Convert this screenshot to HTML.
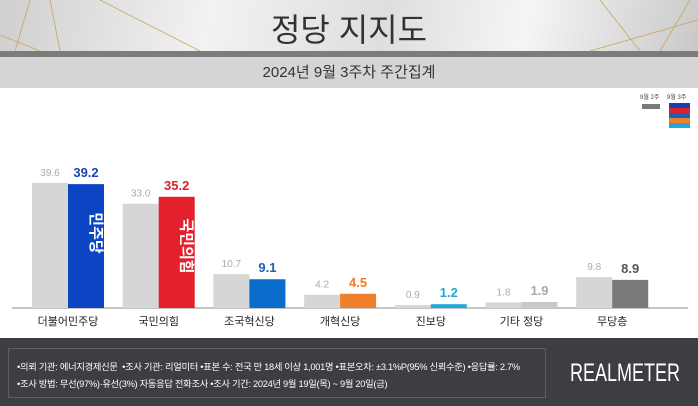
<!DOCTYPE html>
<html><head><meta charset="utf-8"><style>
body{margin:0;width:698px;height:406px;overflow:hidden;font-family:"Liberation Sans","Noto Sans CJK KR",sans-serif;background:#fff;position:relative}
.abs{position:absolute}
</style></head><body>
<div class="abs" style="left:0;top:0;width:698px;height:51px;background:linear-gradient(100deg,#cfcfcf 0%,#f2f2f2 30%,#dedede 55%,#f5f5f5 75%,#c9c9c9 100%)">
<svg width="698" height="51" style="position:absolute;left:0;top:0"><g stroke="#c9a55a" stroke-width="0.8" fill="none"><line x1="30" y1="0" x2="15" y2="51"/><line x1="50" y1="0" x2="60" y2="51"/><line x1="0" y1="35" x2="40" y2="51"/><line x1="100" y1="0" x2="200" y2="51"/><line x1="600" y1="0" x2="640" y2="51"/><line x1="690" y1="0" x2="660" y2="51"/><line x1="698" y1="20" x2="590" y2="51"/></g></svg>
<div class="abs" style="left:0;width:698px;top:5px;text-align:center;font-size:32px;color:#333">정당 지지도</div>
</div>
<div class="abs" style="left:0;top:51px;width:698px;height:6px;background:#7c7c7c"></div>
<div class="abs" style="left:0;top:57px;width:698px;height:31px;background:#d5d5d5;text-align:center;line-height:31px;font-size:15px;color:#333">2024년 9월 3주차 주간집계</div>
<div class="abs" style="left:630px;top:91px;width:68px;height:40px;font-size:6px;color:#444">
<div class="abs" style="left:10px;top:1px">9월 2주</div>
<div class="abs" style="left:12px;top:13px;width:18px;height:5px;background:#7a7a7a"></div>
<div class="abs" style="left:37px;top:1px">9월 3주</div>
<div class="abs" style="left:39px;top:12px;width:21px;height:25px;background:linear-gradient(#1a3fb0 0 20%,#e0202c 20% 40%,#1565c0 40% 60%,#f07f2a 60% 80%,#1fa8d8 80%)"></div>
</div>
<svg id="chart" class="abs" style="left:0;top:88px" width="698" height="250"></svg>
<div class="abs" style="left:0;top:338px;width:698px;height:68px;background:#3c3e42">
<div class="abs" style="left:8px;top:10px;width:536px;height:48px;border:1px solid #5c5e62;color:#fff;font-size:9.3px;letter-spacing:-0.3px">
<div class="abs" style="left:8px;top:10px;white-space:nowrap">•의뢰 기관: 에너지경제신문 &nbsp;•조사 기관: 리얼미터 •표본 수: 전국 만 18세 이상 1,001명 •표본오차: ±3.1%P(95% 신뢰수준) •응답률: 2.7%</div>
<div class="abs" style="left:8px;top:27px;white-space:nowrap">•조사 방법: 무선(97%)·유선(3%) 자동응답 전화조사 •조사 기간: 2024년 9월 19일(목) ~ 9월 20일(금)</div>
</div>
<div class="abs" style="left:570px;top:21px;white-space:nowrap;color:#fff;font-size:25px;transform:scaleX(0.72);transform-origin:left top">REALMETER</div>
</div>
<script>
const categories=["더불어민주당","국민의힘","조국혁신당","개혁신당","진보당","기타 정당","무당층"];
const prevValues=[39.6,33.0,10.7,4.2,0.9,1.8,9.8];
const currValues=[39.2,35.2,9.1,4.5,1.2,1.9,8.9];
const currColors=["#0b45c4","#e3202c","#0a6ccc","#f07f2a","#1fa8d8","#c9c9c9","#7a7a7a"];
const labelColors=["#1645b0","#d8202b","#1a5fb4","#ee7b25","#1fa8d8","#aaaaaa","#555555"];
const svg=document.getElementById('chart');
const NS="http://www.w3.org/2000/svg";
const baseY=220, scale=3.16;
const x0=68, step=90.7, bw=36;
const yPos=v=>baseY-v*scale;
const xC=i=>x0+i*step;
function mk(t,a){const e=document.createElementNS(NS,t);for(const k in a)e.setAttribute(k,a[k]);svg.appendChild(e);return e;}
const ax=mk('line',{x1:12,x2:688,y1:baseY,y2:baseY,stroke:'#888','stroke-width':1});


categories.forEach((c,i)=>{
  const cx=xC(i);
  const p=mk('rect',{x:cx-bw,y:yPos(prevValues[i]),width:bw,height:prevValues[i]*scale,fill:'#d6d6d6'});
  
  
  const b=mk('rect',{x:cx,y:yPos(currValues[i]),width:bw,height:currValues[i]*scale,fill:currColors[i]});
  
  
  const pl=mk('text',{x:cx-bw/2,y:yPos(prevValues[i])-7,'text-anchor':'middle','font-size':10,fill:'#aaa'});
  pl.textContent=prevValues[i].toFixed(1);
  
  
  const cl=mk('text',{x:cx+bw/2,y:yPos(currValues[i])-7,'text-anchor':'middle','font-size':13,'font-weight':'bold',fill:labelColors[i]});
  cl.textContent=currValues[i].toFixed(1);
  
  
  const lb=mk('text',{x:cx,y:baseY+17,'text-anchor':'middle','font-size':11,fill:'#222'});
  lb.textContent=c;
  
  
});
const t1=mk('text',{x:0,y:0,'font-size':15,'font-weight':'bold',fill:'#fff',transform:`translate(${xC(0)+bw/2+5},${baseY-75}) rotate(90)`,'text-anchor':'middle'});
t1.textContent='민주당';


const t2=mk('text',{x:0,y:0,'font-size':15,'font-weight':'bold',fill:'#fff',transform:`translate(${xC(1)+bw/2+5},${baseY-62}) rotate(90)`,'text-anchor':'middle'});
t2.textContent='국민의힘';


</script>
</body></html>
